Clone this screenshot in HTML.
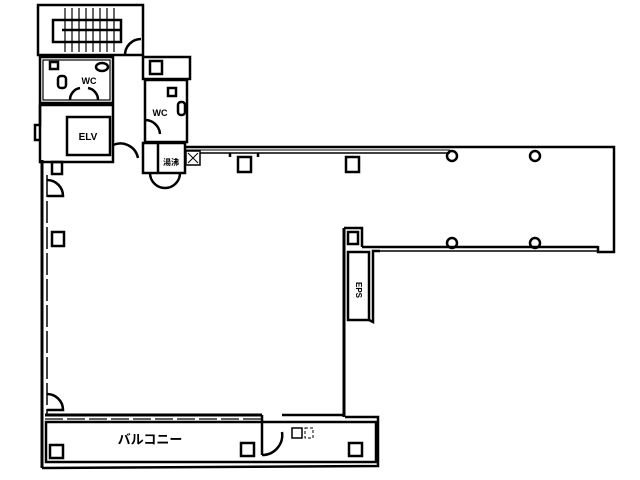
<!DOCTYPE html>
<html><head><meta charset="utf-8"><style>
html,body{margin:0;padding:0;background:#fff;width:640px;height:480px;overflow:hidden}
svg{display:block}
text{font-family:"Liberation Sans","Noto Sans CJK JP",sans-serif;fill:#000;font-weight:bold}
</style></head><body>
<svg width="640" height="480" viewBox="0 0 640 480" xmlns="http://www.w3.org/2000/svg">
<g fill="none" stroke="#000" stroke-width="2.5">
<rect x="38" y="5" width="105" height="50"/>
<rect x="53" y="20" width="68" height="22"/>
<line x1="62" y1="30" x2="120" y2="30"/>
<g stroke-width="1.2">
<line x1="65" y1="8" x2="65" y2="52"/><line x1="72" y1="8" x2="72" y2="52"/><line x1="79" y1="8" x2="79" y2="52"/><line x1="86" y1="8" x2="86" y2="52"/><line x1="93" y1="8" x2="93" y2="52"/><line x1="100" y1="8" x2="100" y2="52"/><line x1="107" y1="8" x2="107" y2="52"/><line x1="114" y1="8" x2="114" y2="52"/>
</g>
<path d="M125 55 A16 16 0 0 1 141 39"/>
<rect x="40" y="57" width="73" height="46"/>
<rect x="43" y="60" width="67" height="40" stroke-width="1.2"/>
<rect x="50" y="62" width="8" height="7"/>
<rect x="58" y="76" width="8" height="12" rx="3"/>
<ellipse cx="102" cy="67" rx="6" ry="4"/>
<path d="M70 100 A12 12 0 0 1 80 88"/><path d="M98 100 A12 12 0 0 0 88 88"/>
<rect x="143" y="57" width="47" height="22"/>
<rect x="150" y="61" width="12" height="13"/>
<rect x="145" y="80" width="42" height="62"/>
<rect x="178" y="102" width="7" height="13" rx="3"/>
<rect x="168" y="88" width="8" height="8"/>
<path d="M145 120 A15 15 0 0 1 160 134"/>
<rect x="40" y="105" width="73" height="57"/>
<rect x="67" y="117" width="43" height="38"/>
<path d="M40 105 L40 125 L35 125 L35 140 L40 140"/>
<path d="M113 145 A18 18 0 0 1 138 158"/>
<rect x="143" y="143" width="42" height="30"/>
<line x1="158" y1="143" x2="158" y2="173"/>
<path d="M150 173 A15 15 0 0 0 180 173"/>
<rect x="186" y="151" width="14" height="14" stroke-width="1.5"/>
<path d="M188 153 L198 163 M198 153 L188 163" stroke-width="1"/>
<line x1="42" y1="160" x2="42" y2="468" stroke-width="3"/>
<line x1="47" y1="175" x2="47" y2="415" stroke-width="1.5" stroke-dasharray="22 4"/>
<path d="M47 180 A16 16 0 0 1 63 196 L47 196"/>
<path d="M47 394 A16 16 0 0 1 63 410 L47 410"/>
<rect x="52" y="232" width="12" height="14"/>
<rect x="52" y="162" width="10" height="12"/>
<path d="M185 147 L614 147 L614 252 L598 252 L598 246"/>
<path d="M200 153 L450 153" stroke-width="1.5"/>
<line x1="185" y1="150" x2="450" y2="150" stroke-width="1"/>
<rect x="238" y="157" width="13" height="15"/>
<rect x="346" y="157" width="13" height="15"/>
<path d="M230 153 L230 157 M258 153 L258 157"/>
<circle cx="452" cy="156" r="5"/><circle cx="535" cy="156" r="5"/>
<circle cx="452" cy="243" r="5"/><circle cx="535" cy="243" r="5"/>
<path d="M362 247 L598 247" />
<line x1="372" y1="251" x2="598" y2="251" stroke-width="1.5"/>
<path d="M344 228 L362 228 L362 247"/>
<rect x="348" y="232" width="10" height="12"/>
<line x1="344" y1="228" x2="344" y2="417" stroke-width="3"/>
<rect x="348" y="252" width="21" height="68"/>
<path d="M369 320 L373 322 L373 251 L380 251"/>
<line x1="45" y1="415" x2="262" y2="415" stroke-width="3"/>
<line x1="45" y1="419" x2="262" y2="419" stroke-width="1.2" stroke-dasharray="18 4"/>
<path d="M262 415 L262 455 M262 455 A20 20 0 0 0 282 432"/>
<path d="M282 415 L344 415"/>
<rect x="46" y="422" width="330" height="40"/>
<path d="M42 468 L378 466 L378 417 L345 417"/>
<rect x="50" y="445" width="13" height="13"/>
<rect x="241" y="443" width="13" height="13"/>
<rect x="349" y="443" width="13" height="13"/>
<rect x="292" y="428" width="10" height="10" stroke-width="1.5"/>
<rect x="305" y="428" width="8" height="10" stroke-width="1" stroke-dasharray="3 2"/>
</g>
<text x="89" y="84" font-size="9" text-anchor="middle">WC</text>
<text x="160" y="116" font-size="9" text-anchor="middle">WC</text>
<text x="88" y="140" font-size="10" text-anchor="middle">ELV</text>
<text x="171" y="165" font-size="8" text-anchor="middle">湯沸</text>
<text x="359" y="293" font-size="8" text-anchor="middle" transform="rotate(90 359 290)">EPS</text>
<text x="150" y="444" font-size="13" text-anchor="middle">バルコニー</text>
</svg>
</body></html>
